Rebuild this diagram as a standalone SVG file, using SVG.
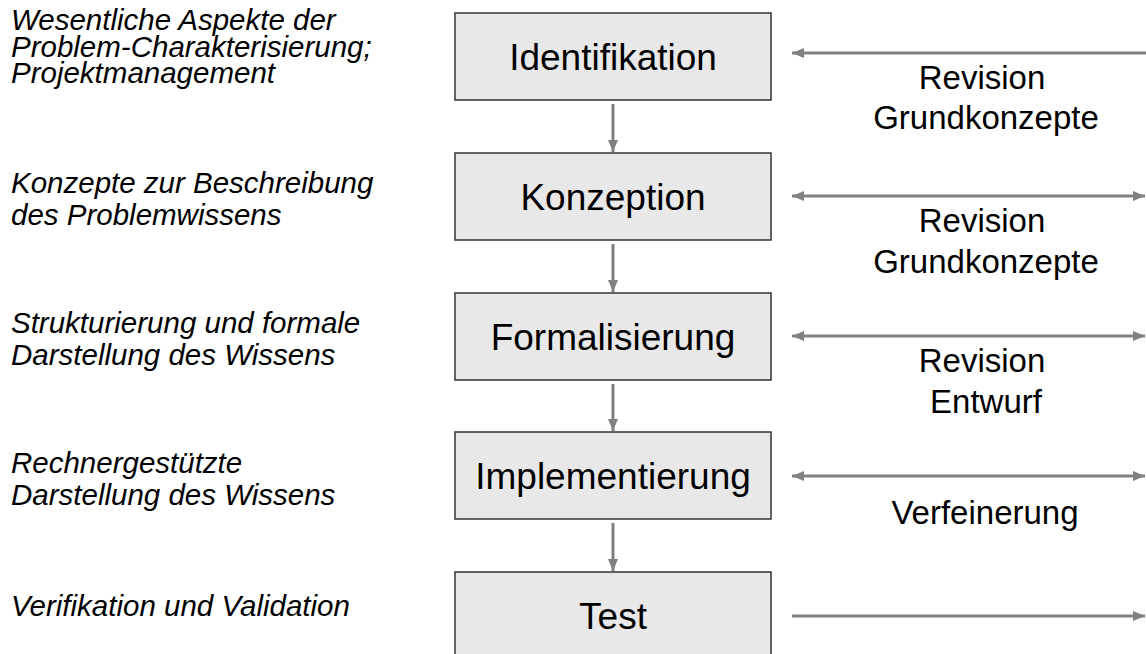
<svg xmlns="http://www.w3.org/2000/svg" width="1146" height="654" viewBox="0 0 1146 654">
  <defs>
    <marker id="tip" viewBox="0 0 12 10" refX="12" refY="5" markerWidth="12" markerHeight="10" markerUnits="userSpaceOnUse" orient="auto-start-reverse">
      <path d="M0,0 L12,5 L0,10 Z" fill="#808080"/>
    </marker>
    <style>
      .box { fill: #e8e8e8; stroke: #333333; stroke-width: 1.5; }
      .lbl { font-family: "Liberation Sans", Arial, sans-serif; font-size: 37px; fill: #000; text-anchor: middle; }
      .note { font-family: "Liberation Sans", Arial, sans-serif; font-size: 29.5px; font-style: italic; fill: #000; }
      .side { font-family: "Liberation Sans", Arial, sans-serif; font-size: 33px; fill: #000; text-anchor: middle; }
      .conn { stroke: #808080; stroke-width: 3; fill: none; }
    </style>
  </defs>

  <rect width="1146" height="654" fill="#ffffff"/>

  <!-- phase descriptions -->
  <g id="notes">
    <text class="note" x="11" y="30">Wesentliche Aspekte der</text>
    <text class="note" x="11" y="56.5">Problem-Charakterisierung;</text>
    <text class="note" x="11" y="83">Projektmanagement</text>
    <text class="note" x="11" y="193">Konzepte zur Beschreibung</text>
    <text class="note" x="11" y="225">des Problemwissens</text>
    <text class="note" x="11" y="333">Strukturierung und formale</text>
    <text class="note" x="11" y="365">Darstellung des Wissens</text>
    <text class="note" x="11" y="473">Rechnergestützte</text>
    <text class="note" x="11" y="505">Darstellung des Wissens</text>
    <text class="note" x="11" y="616">Verifikation und Validation</text>
  </g>

  <!-- phases -->
  <g id="identifikation">
    <rect class="box" x="455" y="13" width="316" height="87"/>
    <text class="lbl" x="613" y="70">Identifikation</text>
  </g>
  <g id="konzeption">
    <rect class="box" x="455" y="153" width="316" height="87"/>
    <text class="lbl" x="613" y="210">Konzeption</text>
  </g>
  <g id="formalisierung">
    <rect class="box" x="455" y="293" width="316" height="87"/>
    <text class="lbl" x="613" y="350">Formalisierung</text>
  </g>
  <g id="implementierung">
    <rect class="box" x="455" y="432" width="316" height="87"/>
    <text class="lbl" x="613" y="489">Implementierung</text>
  </g>
  <g id="test">
    <rect class="box" x="455" y="572" width="316" height="87"/>
    <text class="lbl" x="613" y="629">Test</text>
  </g>

  <!-- flow between phases and feedback lines -->
  <g id="connectors">
    <line class="conn" x1="613" y1="104" x2="613" y2="152" marker-end="url(#tip)"/>
    <line class="conn" x1="613" y1="244" x2="613" y2="292" marker-end="url(#tip)"/>
    <line class="conn" x1="613" y1="384" x2="613" y2="431" marker-end="url(#tip)"/>
    <line class="conn" x1="613" y1="523" x2="613" y2="571" marker-end="url(#tip)"/>

    <line class="conn" x1="1146" y1="53" x2="792" y2="53" marker-end="url(#tip)"/>
    <line class="conn" x1="792" y1="196" x2="1145" y2="196" marker-start="url(#tip)" marker-end="url(#tip)"/>
    <line class="conn" x1="792" y1="336" x2="1145" y2="336" marker-start="url(#tip)" marker-end="url(#tip)"/>
    <line class="conn" x1="792" y1="476" x2="1145" y2="476" marker-start="url(#tip)" marker-end="url(#tip)"/>
    <line class="conn" x1="792" y1="616" x2="1145" y2="616" marker-end="url(#tip)"/>
  </g>

  <!-- feedback labels -->
  <g id="feedback-labels">
    <text class="side" x="982" y="89">Revision</text>
    <text class="side" x="986" y="129">Grundkonzepte</text>
    <text class="side" x="982" y="232">Revision</text>
    <text class="side" x="986" y="273">Grundkonzepte</text>
    <text class="side" x="982" y="372">Revision</text>
    <text class="side" x="986" y="413">Entwurf</text>
    <text class="side" x="985" y="524">Verfeinerung</text>
  </g>
</svg>
